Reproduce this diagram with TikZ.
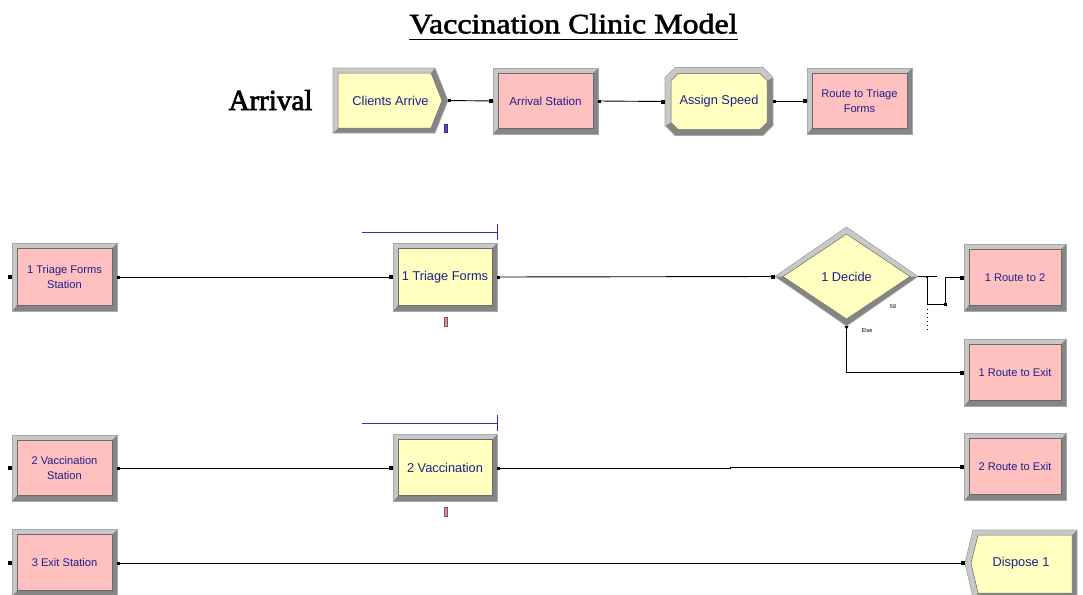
\documentclass[tikz,border=0pt]{standalone}
\usepackage{fontspec}
\setmainfont{Liberation Sans}
\newfontfamily\titlefont[FakeStretch=1.14,FakeBold=2]{Liberation Serif}
\newfontfamily\serfont[FakeBold=2.5]{Liberation Serif}
\usetikzlibrary{backgrounds,calc}
\definecolor{modyellow}{HTML}{FFFFC0}
\definecolor{modpink}{HTML}{FFC0C0}
\definecolor{bevlight}{HTML}{C8C8C8}
\definecolor{bevdark}{HTML}{858585}
\definecolor{bevedge}{HTML}{A8A8A8}
\definecolor{modtext}{HTML}{1E1E8C}
\definecolor{queueblue}{HTML}{3030A8}
\definecolor{resred}{HTML}{E09090}
\definecolor{entblue}{HTML}{5050D0}
\tikzset{
  modbox/.style={rectangle, inner sep=0pt, outer sep=0pt, text=modtext, align=center},
  logic/.style={modbox, font=\fontsize{12.8}{15}\selectfont},
  station/.style={modbox, font=\fontsize{11.1}{15.6}\selectfont},
  conn/.style={draw=black, line width=0.9pt},
  inner/.style={draw=bevdark!80!black, line width=0.5pt},
  tiny/.style={font=\fontsize{5.5}{6}\selectfont, inner sep=0pt, text=black}
}
\newcommand\rectmod[2]{%
  \begin{pgfonlayer}{background}
  \fill[bevdark] (#1.north west) rectangle (#1.south east);
  \fill[bevlight] (#1.north west) -- (#1.north east) -- ([shift={(-5,5)}]#1.north east)
    -- ([shift={(5,5)}]#1.north west) -- ([shift={(5,-6)}]#1.south west) -- (#1.south west) -- cycle;
  \draw[bevedge, line width=0.6pt] (#1.north west) rectangle (#1.south east);
  \filldraw[inner, fill=#2] ([shift={(5,5)}]#1.north west) rectangle ([shift={(-5,-6)}]#1.south east);
  \end{pgfonlayer}}
\newcommand\entrymark[1]{\fill ([shift={(-4,-2)}]#1) rectangle ([shift={(0,2)}]#1);}
\newcommand\exitmark[1]{\fill ([shift={(0,-1.5)}]#1) rectangle ([shift={(3,1.5)}]#1);}
\begin{document}
\begin{tikzpicture}[x=1pt,y=-1pt]
\useasboundingbox (0,0) rectangle (1083,594);
\begin{pgfonlayer}{background}
\fill[white] (0,0) rectangle (1083,594);
\end{pgfonlayer}

% title
\node[font=\titlefont\fontsize{28}{28}\selectfont, inner sep=0pt, anchor=base] (title) at (573.5,33.3) {Vaccination Clinic Model};
\draw[line width=1.3pt] ([yshift=-6pt]title.base west) -- ([yshift=-6pt]title.base east);
\node[font=\serfont\fontsize{29}{30}\selectfont, inner sep=0pt, anchor=base] (arr) at (270.5,110) {Arrival};

% ---- row 1
\node[logic, minimum width=115pt, minimum height=65pt] (ca) at (390.5,100.5) {Clients Arrive};
\node[station, font=\fontsize{11.6}{15}\selectfont, minimum width=105pt, minimum height=66pt] (as) at (545.5,101) {Arrival Station};
\node[logic, minimum width=108pt, minimum height=68pt] (asp) at (719,101.5) {Assign Speed};
\node[station, minimum width=105pt, minimum height=66pt] (rtf) at (859.5,101) {Route to Triage\\Forms};

% ---- row 2
\node[station, minimum width=105pt, minimum height=68pt] (tfs) at (64.5,277) {1 Triage Forms\\Station};
\node[logic, minimum width=104pt, minimum height=68pt] (tf) at (445,277) {1 Triage Forms};
\node[logic, minimum width=143pt, minimum height=99pt] (dec) at (846.5,276.5) {1 Decide};
\node[station, minimum width=102pt, minimum height=67pt] (r12) at (1015,277.5) {1 Route to 2};
\node[station, minimum width=102pt, minimum height=67pt] (r1e) at (1015,372.5) {1 Route to Exit};

% ---- row 3
\node[station, minimum width=105pt, minimum height=66pt] (vs) at (64.5,468) {2 Vaccination\\Station};
\node[logic, minimum width=104pt, minimum height=67pt] (vac) at (445,468) {2 Vaccination};
\node[station, minimum width=102pt, minimum height=67pt] (r2e) at (1015,467) {2 Route to Exit};

% ---- row 4
\node[station, minimum width=105pt, minimum height=67pt] (es) at (64.5,563) {3 Exit Station};
\node[logic, minimum width=112pt, minimum height=67pt] (d1) at (1021,563) {Dispose 1};

% rectangular module frames
\rectmod{as}{modpink}
\rectmod{rtf}{modpink}
\rectmod{tfs}{modpink}
\rectmod{tf}{modyellow}
\rectmod{r12}{modpink}
\rectmod{r1e}{modpink}
\rectmod{vs}{modpink}
\rectmod{vac}{modyellow}
\rectmod{r2e}{modpink}
\rectmod{es}{modpink}

\begin{pgfonlayer}{background}
% create
\fill[bevdark] (333,68) -- (435,68) -- (448,100.5) -- (435,133) -- (333,133) -- cycle;
\fill[bevlight] (333,133) -- (333,68) -- (435,68) -- (431,73) -- (338,73) -- (338,128) -- cycle;
\draw[bevedge, line width=0.6pt] (333,68) -- (435,68) -- (448,100.5) -- (435,133) -- (333,133) -- cycle;
\filldraw[inner, fill=modyellow] (338,73) -- (431,73) -- (442,100.5) -- (431,128) -- (338,128) -- cycle;
% assign
\fill[bevdark] (675,67.5) -- (763,67.5) -- (773,77.5) -- (773,125.5) -- (763,135.5) -- (675,135.5) -- (665,125.5) -- (665,77.5) -- cycle;
\fill[bevlight] (665,125.5) -- (665,77.5) -- (675,67.5) -- (763,67.5) -- (773,77.5) -- (767,80.5) -- (760,73.5) -- (678,73.5) -- (671,80.5) -- (671,122.5) -- cycle;
\draw[bevedge, line width=0.6pt] (675,67.5) -- (763,67.5) -- (773,77.5) -- (773,125.5) -- (763,135.5) -- (675,135.5) -- (665,125.5) -- (665,77.5) -- cycle;
\filldraw[inner, fill=modyellow] (678,73.5) -- (760,73.5) -- (767,80.5) -- (767,122.5) -- (760,129.5) -- (678,129.5) -- (671,122.5) -- (671,80.5) -- cycle;
% decide
\fill[bevdark] (dec.west) -- (dec.north) -- (dec.east) -- (dec.south) -- cycle;
\fill[bevlight] (dec.west) -- (dec.north) -- (dec.east) -- ([xshift=-8pt]dec.east) -- ([yshift=-7pt]dec.north) -- ([xshift=8pt]dec.west) -- cycle;
\draw[bevedge, line width=0.6pt] (dec.west) -- (dec.north) -- (dec.east) -- (dec.south) -- cycle;
\filldraw[inner, fill=modyellow] ([xshift=8pt]dec.west) -- ([yshift=-7pt]dec.north) -- ([xshift=-8pt]dec.east) -- ([yshift=7pt]dec.south) -- cycle;
% dispose
\fill[bevdark] (973,530) -- (1077,530) -- (1077,598) -- (973,598) -- (965,563) -- cycle;
\fill[bevlight] (1077,530) -- (973,530) -- (965,563) -- (973,598) -- (978,593) -- (971,563) -- (978,535) -- (1072,535) -- cycle;
\draw[bevedge, line width=0.6pt] (973,530) -- (1077,530) -- (1077,598) -- (973,598) -- (965,563) -- cycle;
\filldraw[inner, fill=modyellow] (978,535) -- (1072,535) -- (1072,593) -- (978,593) -- (971,563) -- cycle;
\end{pgfonlayer}

% connectors
\draw[conn] (ca.east) -- (as.west);
\draw[conn] (as.east) -- (asp.west);
\draw[conn] (asp.east) -- ++(16,0) |- (rtf.west);
\draw[conn] (tfs.east) -- (tf.west);
\draw[conn] (tf.east) -- (dec.west);
\coordinate (br) at (927,277);
\coordinate (brdot) at (927,309);
\draw[conn] (dec.east) -- ++(19,0);
\draw[conn] (br) |- (945,304) |- (r12.west);
\draw[black, line width=0.9pt, dash pattern=on 1pt off 3pt] (brdot) -- ++(0,22);
\draw[conn] (dec.south) |- (r1e.west);
\draw[conn] (vs.east) -- (vac.west);
\draw[conn] (vac.east) -- (730,468) |- (r2e.west);
\draw[conn] (es.east) -- (d1.west);

% port marks
\foreach \p in {as.west,asp.west,rtf.west,tfs.west,tf.west,dec.west,r12.west,r1e.west,vs.west,vac.west,r2e.west,es.west,d1.west}
  {\entrymark{\p}}
\foreach \p in {ca.east,as.east,asp.east,tfs.east,tf.east,vs.east,vac.east,es.east}
  {\exitmark{\p}}
\fill ([shift={(-2,0)}]dec.south) -- ([shift={(2,0)}]dec.south) -- ([shift={(0,4)}]dec.south) -- cycle;
\fill (br) ++(-1,-1) rectangle ++(2,2);
\fill (945,304) ++(-1.5,-1.5) rectangle ++(3,3);

% labels on decide
\node[tiny] (l58) at (893,307) {58};
\node[tiny] (lelse) at (867,331) {Else};

% queues and resources
\draw[queueblue, line width=1pt] (362,232) -- (497,232) (497,224) -- (497,240);
\draw[queueblue, line width=1pt] (362,423) -- (497,423) (497,415) -- (497,431);
\filldraw[fill=resred, draw=resred!60!black, line width=0.4pt] (444,317) rectangle (447,326);
\filldraw[fill=resred, draw=resred!60!black, line width=0.4pt] (444,507) rectangle (447,516);
\filldraw[fill=entblue, draw=entblue!60!black, line width=0.4pt] (444.5,124) rectangle (447,132);
\end{tikzpicture}
\end{document}
